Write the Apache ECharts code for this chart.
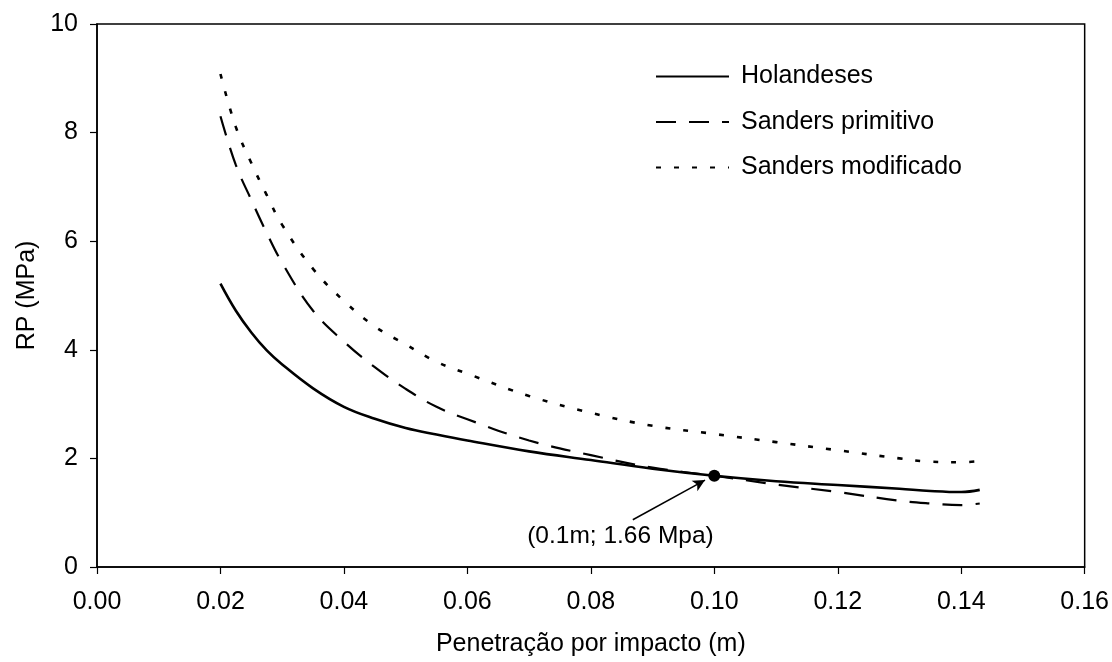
<!DOCTYPE html>
<html>
<head>
<meta charset="utf-8">
<script src="https://cdn.jsdelivr.net/npm/echarts@6/dist/echarts.min.js"></script>
<style>
html,body{margin:0;padding:0;background:#fff;}
#chart{width:1112px;height:662px;}
</style>
</head>
<body>
<div id="chart"></div>
<script>
// ---- data ----
const xValues = [0.02, 0.0225, 0.025, 0.0275, 0.03, 0.035, 0.04, 0.045, 0.05, 0.055, 0.06, 0.07, 0.08, 0.09, 0.10, 0.11, 0.12, 0.13, 0.135, 0.14, 0.143];
const holandeses = [5.22, 4.72, 4.32, 3.99, 3.73, 3.29, 2.95, 2.73, 2.56, 2.44, 2.33, 2.13, 1.97, 1.81, 1.68, 1.58, 1.51, 1.44, 1.40, 1.38, 1.42];
const sandersPrimitivo = [8.30, 7.40, 6.76, 6.15, 5.60, 4.72, 4.15, 3.68, 3.28, 2.95, 2.72, 2.33, 2.06, 1.83, 1.68, 1.52, 1.38, 1.22, 1.17, 1.14, 1.17];
const sandersModificado = [9.08, 8.10, 7.44, 6.85, 6.30, 5.49, 4.90, 4.43, 4.10, 3.78, 3.56, 3.15, 2.84, 2.60, 2.45, 2.30, 2.15, 2.00, 1.94, 1.93, 1.95];
const seriesNames = ['Holandeses', 'Sanders primitivo', 'Sanders modificado'];
const xTicks = [0, 0.02, 0.04, 0.06, 0.08, 0.10, 0.12, 0.14, 0.16];
const yTicks = [0, 2, 4, 6, 8, 10];
const crossPoint = [0.10, 1.68];
const arrowStart = [0.0868, 0.87];
const arrowEnd = [0.0985, 1.60];
const annotationPos = [0.0848, 0.57];
const annotationText = '(0.1m; 1.66 Mpa)';
const xTitle = 'Penetração por impacto (m)';
const yTitle = 'RP (MPa)';

const pairs = arr => xValues.map((x, i) => [x, arr[i]]);
const FONT = '"Liberation Sans", Arial, sans-serif';
const FS = 25;

const chart = echarts.init(document.getElementById('chart'), null, {renderer: 'canvas'});
chart.setOption({
  animation: false,
  backgroundColor: '#fff',
  textStyle: {fontFamily: FONT, color: '#000'},
  grid: {left: 97, right: 27, top: 24, bottom: 93, show: true, borderColor: '#000', borderWidth: 1.5, containLabel: false},
  legend: {
    orient: 'vertical', left: 650, top: 59, itemWidth: 73, itemHeight: 14, itemGap: 20.5,
    data: seriesNames,
    itemStyle: {opacity: 0},
    textStyle: {fontFamily: FONT, fontSize: FS, color: '#000', padding: [0, 0, 0, 7]},
    selectedMode: false
  },
  xAxis: {
    type: 'value', min: xTicks[0], max: xTicks[xTicks.length - 1], interval: 0.02,
    name: xTitle, nameLocation: 'middle', nameGap: 65,
    nameTextStyle: {fontFamily: FONT, fontSize: FS, color: '#000'},
    axisLine: {show: true, lineStyle: {color: '#000', width: 1.5}},
    axisTick: {show: true, length: 7, lineStyle: {color: '#000', width: 1.2}},
    axisLabel: {fontFamily: FONT, fontSize: FS, color: '#000', margin: 23, formatter: v => v.toFixed(2)},
    splitLine: {show: false}
  },
  yAxis: {
    type: 'value', min: yTicks[0], max: yTicks[yTicks.length - 1], interval: 2,
    name: yTitle, nameLocation: 'middle', nameGap: 57,
    nameTextStyle: {fontFamily: FONT, fontSize: FS, color: '#000'},
    axisLine: {show: true, lineStyle: {color: '#000', width: 1.5}},
    axisTick: {show: true, length: 7, lineStyle: {color: '#000', width: 1.2}},
    axisLabel: {fontFamily: FONT, fontSize: FS, color: '#000', margin: 19},
    splitLine: {show: false}
  },
  series: [
    {name: seriesNames[0], type: 'line', data: pairs(holandeses), smooth: 0.4, symbol: 'none',
     lineStyle: {color: '#000', width: 2.6}, itemStyle: {color: '#000'}, z: 3},
    {name: seriesNames[1], type: 'line', data: pairs(sandersPrimitivo), smooth: 0.4, symbol: 'none',
     lineStyle: {color: '#000', width: 2.2, type: [20, 13]}, itemStyle: {color: '#000'}, z: 2},
    {name: seriesNames[2], type: 'line', data: pairs(sandersModificado), smooth: 0.4, symbol: 'none',
     lineStyle: {color: '#000', width: 2.6, type: [5, 13]}, itemStyle: {color: '#000'}, z: 2},
    {type: 'scatter', data: [crossPoint], symbol: 'circle', symbolSize: 12,
     itemStyle: {color: '#000', opacity: 1}, z: 5, silent: true,
     markLine: {silent: true, symbol: ['none', 'arrow'], symbolSize: [9, 12],
       lineStyle: {color: '#000', width: 1.5, type: 'solid', opacity: 1}, label: {show: false},
       data: [[{coord: arrowStart}, {coord: arrowEnd}]]}},
    {type: 'scatter', data: [annotationPos], symbolSize: 0, silent: true, z: 5,
     itemStyle: {opacity: 1},
     label: {show: true, position: 'inside', formatter: annotationText, fontFamily: FONT, fontSize: 24.5, color: '#000', opacity: 1}}
  ]
});
</script>
</body>
</html>
